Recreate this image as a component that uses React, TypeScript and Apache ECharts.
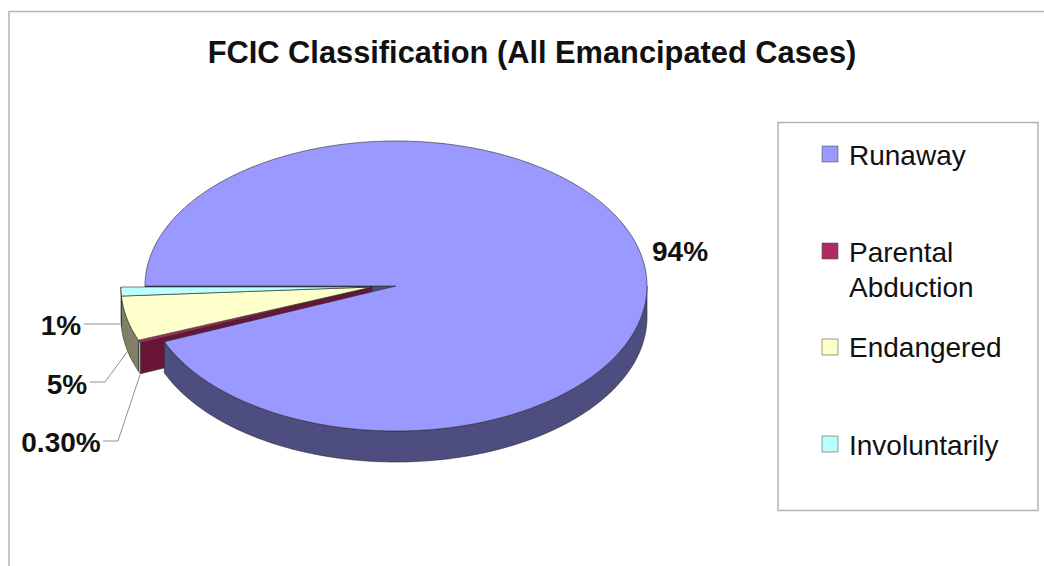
import React, { useEffect, useRef } from "react";
import * as echarts from "echarts";

const categories = ["Runaway", "Parental\nAbduction", "Endangered", "Involuntarily"];
const values = [94, 0.3, 5, 1];
const valueLabels = ["94%", "0.30%", "5%", "1%"];
const topColors = ["#9999FF", "#B02A62", "#FFFFCC", "#BBFFFF"];
const sideColors = ["#4D4D80", "#C9C9C9", "#808066", "#668080"];
const cutColor = ["#4D4D80", "#6A1438"];
const FONT = "'Liberation Sans', Arial, sans-serif";

const total = values.reduce((a, b) => a + b, 0);
const RX = 251, RY = 145, DEPTH = 31;
const MAIN = { x: 396, y: 286 };
const PULLED = { x: 372, y: 287 };

// t = 0 is the 9 o'clock point; t grows counter-clockwise on screen (via the bottom).
const pt = (c: { x: number; y: number }, deg: number, dy = 0) => {
  const r = (deg * Math.PI) / 180;
  return [c.x - RX * Math.cos(r), c.y + RY * Math.sin(r) + dy];
};
const arc = (c: { x: number; y: number }, a: number, b: number, dy = 0) => {
  const n = Math.max(2, Math.ceil(Math.abs(b - a)));
  const out: number[][] = [];
  for (let i = 0; i <= n; i++) out.push(pt(c, a + ((b - a) * i) / n, dy));
  return out;
};

// Sweep of each slice. Involuntarily starts at t = 0, then Endangered, Parental; Runaway takes the rest.
const sweep = values.map((v) => (v / total) * 360);
const startOf: Record<number, number> = {
  3: 0,
  2: sweep[3],
  1: sweep[3] + sweep[2],
  0: sweep[3] + sweep[2] + sweep[1],
};

const edge = { stroke: "#2a2a2a", lineWidth: 0.6 };

function renderSlice(_: any, api: any) {
  const i = api.value(0);
  const a = startOf[i];
  const b = a + (api.value(1) / total) * 360;
  const c = i === 0 ? MAIN : PULLED;
  const children: any[] = [];
  const poly = (points: number[][], fill: string, z2: number, st: any = edge) => ({
    type: "polygon",
    z2,
    shape: { points },
    style: { fill, ...st },
  });
  if (i === 0) {
    // cut face along the 9 o'clock edge, seen through the gap
    children.push(
      poly([[MAIN.x, MAIN.y], pt(MAIN, 0), pt(MAIN, 0, DEPTH), [MAIN.x, MAIN.y + DEPTH]], cutColor[0], 0)
    );
    // rim, visible on the front half only
    children.push(
      poly([...arc(MAIN, a, 180), ...arc(MAIN, 180, a, DEPTH)], sideColors[0], 10)
    );
    children.push(poly([[c.x, c.y], ...arc(c, a, b)], topColors[0], 11));
  } else {
    if (i === 1) {
      const p = pt(c, b);
      children.push(
        poly([[c.x, c.y], p, [p[0], p[1] + DEPTH], [c.x, c.y + DEPTH]], cutColor[1], 1)
      );
    }
    children.push(poly([...arc(c, a, b), ...arc(c, b, a, DEPTH)], sideColors[i], 2));
    children.push(poly([[c.x, c.y], ...arc(c, a, b)], topColors[i], 3));
  }
  return { type: "group", children };
}

const legendRows = [154, 251, 347, 444];
const legendTextRows = [155, 252, 347, 445];
const labelAnchors: [number, number][] = [
  [680, 251],
  [61, 442],
  [67, 384],
  [61, 325],
];
const leaderLines: number[][][] = [
  [],
  [[103, 441], [118, 441], [140, 375]],
  [[90, 382], [105, 382], [127, 352]],
  [[84, 324], [120, 324]],
];

export default function App() {
  const ref = useRef<HTMLDivElement>(null);
  useEffect(() => {
    document.body.style.margin = "0";
    const chart = echarts.init(ref.current!, null, { renderer: "svg" });
    const graphic: any[] = [
      {
        type: "rect",
        z: -1,
        shape: { x: 9, y: 11.5, width: 1100, height: 600 },
        style: { fill: "#fff", stroke: "#b4b4b4", lineWidth: 1.5 },
      },
      {
        type: "rect",
        shape: { x: 778, y: 122.5, width: 260, height: 388 },
        style: { fill: "#fff", stroke: "#b4b4b4", lineWidth: 1.5 },
      },
    ];
    categories.forEach((name, i) => {
      graphic.push({
        type: "rect",
        shape: { x: 822, y: legendRows[i] - 8, width: 16, height: 16 },
        style: { fill: topColors[i], stroke: "#555", lineWidth: 0.6 },
      });
      graphic.push({
        type: "text",
        x: 849,
        y: i === 1 ? 234.5 : legendTextRows[i] - 17.5,
        style: {
          text: name,
          font: `28px ${FONT}`,
          fill: "#111",
          lineHeight: 35,
          textVerticalAlign: "top",
        },
      });
      graphic.push({
        type: "text",
        x: labelAnchors[i][0],
        y: labelAnchors[i][1],
        style: {
          text: valueLabels[i],
          font: `bold 28px ${FONT}`,
          fill: "#111",
          textAlign: "center",
          textVerticalAlign: "middle",
        },
      });
      if (leaderLines[i].length) {
        graphic.push({
          type: "polyline",
          z: 5,
          shape: { points: leaderLines[i] },
          style: { fill: "none", stroke: "#909090", lineWidth: 1 },
        });
      }
    });
    chart.setOption({
      animation: false,
      backgroundColor: "#fff",
      title: {
        text: "FCIC Classification (All Emancipated Cases)",
        left: 527,
        top: 32,
        textAlign: "center",
        textStyle: { fontFamily: FONT, fontSize: 30.8, fontWeight: "bold", color: "#111" },
      },
      graphic,
      series: [
        {
          type: "custom",
          coordinateSystem: "none",
          renderItem: renderSlice,
          data: values.map((v, i) => [i, v]),
          silent: true,
        },
      ],
    });
    return () => chart.dispose();
  }, []);
  return <div ref={ref} style={{ width: 1044, height: 566 }} />;
}
